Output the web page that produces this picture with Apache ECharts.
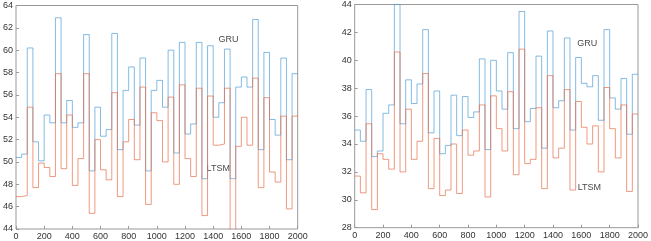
<!DOCTYPE html>
<html>
<head>
<meta charset="utf-8">
<script src="https://cdn.jsdelivr.net/npm/echarts@6/dist/echarts.min.js"></script>
<style>
  html, body { margin: 0; padding: 0; background: #fff; }
  #chart { width: 651px; height: 241px; }
</style>
</head>
<body>
<div id="chart"></div>
<script>
// each value holds for one 40-step segment
const segWidth = 40;

// left panel
const gruLeft = [50.4, 50.7, 60.2, 51.8, 50.1, 54.2, 53.5, 62.9, 53.5, 55.5,
  53.1, 53.5, 61.4, 49.2, 54.9, 52.3, 52.9, 61.5, 51.1, 56.4,
  58.5, 53.3, 59.3, 49.2, 56.4, 57.3, 54.9, 60.0, 50.8, 60.7,
  52.5, 53.4, 60.7, 48.5, 60.4, 54.0, 55.3, 60.1, 48.5, 56.7,
  57.6, 56.7, 62.75, 51.1, 59.8, 53.8, 52.4, 59.3, 50.2, 57.9];
const ltsmLeft = [46.9, 47.0, 54.9, 47.7, 49.9, 49.5, 48.7, 57.9, 49.4, 54.2,
  47.9, 50.3, 57.9, 45.4, 52.0, 49.3, 48.4, 56.2, 46.9, 51.8,
  53.8, 50.2, 56.7, 46.2, 54.4, 53.7, 50.0, 55.8, 48.0, 56.9,
  50.3, 48.7, 56.6, 45.2, 55.9, 51.5, 51.6, 56.6, 43.5, 51.4,
  54.0, 51.5, 57.5, 47.7, 55.75, 49.1, 48.2, 54.1, 45.8, 54.1];

// right panel
const gruRight = [35.0, 34.2, 37.9, 33.1, 33.5, 36.2, 36.8, 44.0, 35.45, 38.6,
  36.9, 38.3, 42.2, 34.8, 37.8, 33.3, 33.9, 37.5, 34.6, 37.4,
  35.9, 36.3, 40.1, 33.6, 40.0, 37.8, 36.5, 40.55, 35.1, 43.5,
  35.6, 36.55, 40.3, 33.7, 42.1, 36.6, 37.1, 41.6, 35.0, 40.2,
  38.35, 38.1, 38.9, 35.7, 42.2, 37.3, 36.5, 38.7, 34.7, 39.0];
const ltsmRight = [31.7, 30.5, 35.45, 29.3, 33.3, 32.9, 32.2, 40.6, 32.0, 36.5,
  32.9, 34.2, 39.05, 30.8, 34.4, 30.3, 30.7, 34.0, 30.45, 35.0,
  33.2, 33.5, 36.8, 30.2, 37.45, 35.1, 33.5, 37.75, 31.8, 40.8,
  32.6, 32.9, 36.6, 30.8, 38.9, 33.0, 33.7, 37.9, 30.7, 37.05,
  35.2, 34.0, 35.3, 32.0, 38.05, 35.1, 33.0, 36.8, 30.6, 36.15];

const xMax = 2000;
const leftRange = [44, 64];
const rightRange = [28, 44];

// text annotations [x, y, text]
const notesLeft = [[1509, 60.95, 'GRU'], [1436, 49.4, 'LTSM']];
const notesRight = [[1642, 41.2, 'GRU'], [1657, 30.85, 'LTSM']];

const blue = '#4a9ad6';
const red = '#e66a42';
const fontColor = '#333';
const frameColor = '#999';

const toSteps = (levels) => {
  const pts = levels.map((v, i) => [i * segWidth, v]);
  pts.push([xMax, levels[levels.length - 1]]);
  return pts;
};

const chart = echarts.init(document.getElementById('chart'), null, { renderer: 'canvas' });

const labelStyle = {
  color: fontColor, fontSize: 9, margin: 3, fontFamily: 'Liberation Sans',
  formatter: v => String(v),
};
const xAxisOf = (gridIndex) => ({
  type: 'value', gridIndex: gridIndex, min: 0, max: xMax, interval: 200,
  axisLine: { show: false },
  axisTick: { inside: true, length: 3, lineStyle: { color: frameColor } },
  axisLabel: labelStyle,
  splitLine: { show: false },
});
const yAxisOf = (gridIndex, range) => ({
  type: 'value', gridIndex: gridIndex, min: range[0], max: range[1], interval: 2,
  axisLine: { show: false },
  axisTick: { inside: true, length: 3, lineStyle: { color: frameColor } },
  axisLabel: labelStyle,
  splitLine: { show: false },
});
const stepSeries = (name, levels, color, idx) => ({
  name: name, type: 'line', step: 'end',
  xAxisIndex: idx, yAxisIndex: idx,
  data: toSteps(levels), symbol: 'none', clip: true,
  lineStyle: { color: color, width: 0.8, opacity: 0.85 },
  animation: false,
});
const noteSeries = (notes, idx) => ({
  type: 'scatter', xAxisIndex: idx, yAxisIndex: idx,
  data: notes.map(n => ({ value: [n[0], n[1]], name: n[2] })),
  symbolSize: 0, silent: true, animation: false,
  label: {
    show: true, position: 'inside', formatter: p => p.name,
    color: '#111', fontSize: 9, fontFamily: 'Liberation Sans',
  },
});

const option = {
  backgroundColor: '#fff',
  animation: false,
  grid: [
    { left: 12.7, right: 353.3, top: 5.5, bottom: 11, show: true, borderColor: frameColor, borderWidth: 1 },
    { left: 354.7, right: 9.3, top: 1.7, bottom: 13.3, show: true, borderColor: frameColor, borderWidth: 1 },
  ],
  xAxis: [xAxisOf(0), xAxisOf(1)],
  yAxis: [yAxisOf(0, leftRange), yAxisOf(1, rightRange)],
  series: [
    stepSeries('GRU', gruLeft, blue, 0),
    stepSeries('LTSM', ltsmLeft, red, 0),
    stepSeries('GRU', gruRight, blue, 1),
    stepSeries('LTSM', ltsmRight, red, 1),
    noteSeries(notesLeft, 0),
    noteSeries(notesRight, 1),
  ],
};
chart.setOption(option);
</script>
</body>
</html>
